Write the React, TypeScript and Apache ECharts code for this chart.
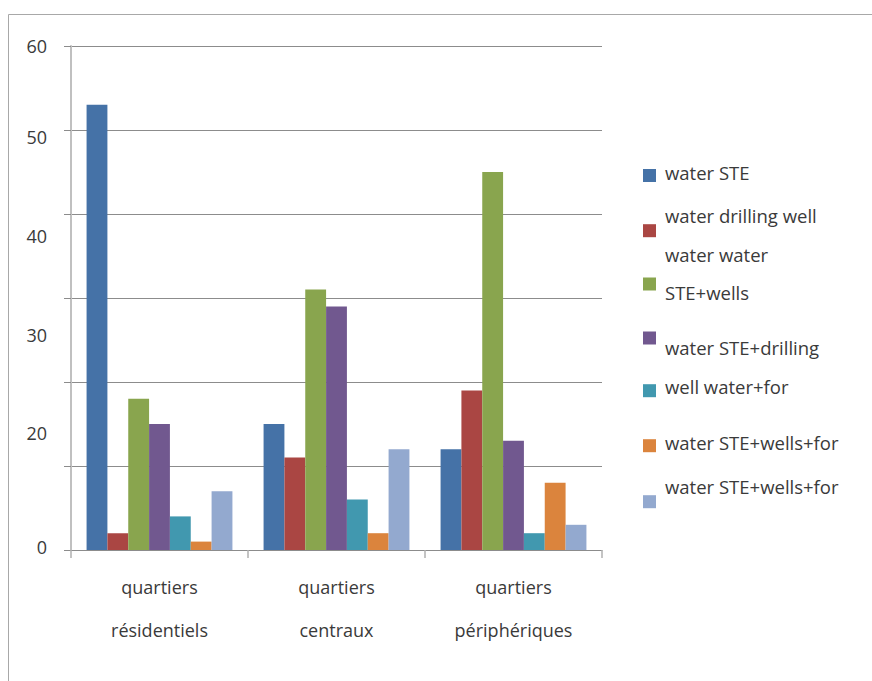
import React, { useEffect, useRef } from "react";
import * as echarts from "echarts";

// ---- data ----
const categories = ["quartiers\nrésidentiels", "quartiers\ncentraux", "quartiers\npériphériques"];
const seriesNames = [
  "water STE",
  "water drilling well\nwater water",
  "STE+wells",
  "water STE+drilling",
  "well water+for",
  "water STE+wells+for",
  "water STE+wells+for ",
];
const waterSTE = [53, 15, 12];
const drillingWell = [2, 11, 19];
const steWells = [18, 31, 45];
const steDrilling = [15, 29, 13];
const wellWaterFor = [4, 6, 2];
const steWellsFor = [1, 2, 8];
const steWellsFor2 = [7, 12, 3];
const seriesValues = [waterSTE, drillingWell, steWells, steDrilling, wellWaterFor, steWellsFor, steWellsFor2];
const yTickLabels = ["60", "50", "40", "30", "20", "0"];

// ---- style ----
const colors = ["#4572A7", "#AA4643", "#89A54E", "#71588F", "#4198AF", "#DB843D", "#93A9CF"];
const yLabelAnchors = [60, 49.2, 37.4, 25.6, 13.9, 0.3];
const legendCenters = [175.5, 230.7, 284, 338, 390.7, 445.7, 501.7];
const legendShifts = [-3.5, 4, 8, 9.5, -4, -3, -15];
const FONT = "'Open Sans', 'DejaVu Sans', sans-serif";
const TEXT = "#3a3a3a";

export default function App() {
  const ref = useRef<HTMLDivElement>(null);
  useEffect(() => {
    if (!ref.current) return;
    const chart = echarts.init(ref.current, null, { renderer: "svg" });
    const LH = 39;
    const legends = seriesNames.map((name, i) => {
      const lines = name.split("\n");
      const C = LH * lines.length;
      const d = legendShifts[i];
      const sp = Math.max(1, Math.abs(2 * d));
      const body = lines.map((l) => `{t|${l}}`).join("\n");
      const display = d > 0 ? `{s| }\n${body}` : `${body}\n{s| }`;
      const blockH = C + sp;
      return {
        show: true,
        data: [name],
        left: 643,
        top: legendCenters[i] - blockH / 2,
        padding: 0,
        orient: "vertical",
        icon: "rect",
        itemWidth: 13,
        itemHeight: 13,
        selectedMode: false,
        formatter: () => display,
        textStyle: {
          fontFamily: FONT,
          fontSize: 18.5,
          color: TEXT,
          rich: {
            t: {
              fontFamily: FONT,
              fontSize: 18.5,
              color: TEXT,
              lineHeight: LH,
              height: LH,
              padding: [0, 0, 0, 4],
            },
            s: { fontSize: 1, lineHeight: sp, height: sp },
          },
        },
      };
    });
    const labelMap = new Map<number, string>();
    yLabelAnchors.forEach((v, i) => labelMap.set(Math.round(v * 10), yTickLabels[i]));
    chart.setOption({
      animation: false,
      backgroundColor: "#ffffff",
      color: colors,
      textStyle: { fontFamily: FONT },
      graphic: [
        {
          type: "rect",
          silent: true,
          shape: { x: 8.5, y: 14.5, width: 1000, height: 1000 },
          style: { fill: "none", stroke: "#a8a8a8", lineWidth: 1 },
        },
      ],
      legend: legends,
      grid: { left: 71, top: 46, right: 270, bottom: 131, containLabel: false },
      xAxis: {
        type: "category",
        data: categories,
        axisLine: { lineStyle: { color: "#8c8c8c", width: 1 } },
        axisTick: { show: true, length: 8, lineStyle: { color: "#b0b0b0", width: 1.5 } },
        axisLabel: {
          fontFamily: FONT,
          fontSize: 18,
          color: TEXT,
          lineHeight: 43,
          margin: 15.5,
          interval: 0,
        },
      },
      yAxis: [
        {
          type: "value",
          min: 0,
          max: 60,
          interval: 10,
          axisLine: { show: true, lineStyle: { color: "#c0c0c0", width: 2 } },
          axisTick: { show: true, inside: false, length: 7, lineStyle: { color: "#8c8c8c" } },
          axisLabel: { show: false },
          splitLine: { show: true, lineStyle: { color: "#8c8c8c", width: 1.2 } },
        },
        {
          type: "value",
          min: 0,
          max: 60,
          interval: 0.1,
          position: "left",
          axisLine: { show: false },
          axisTick: { show: false },
          splitLine: { show: false },
          axisLabel: {
            margin: 24,
            fontFamily: FONT,
            fontSize: 18,
            color: TEXT,
            formatter: (v: number) => labelMap.get(Math.round(v * 10)) ?? "",
          },
        },
      ],
      series: seriesNames.map((name, i) => ({
        type: "bar",
        name,
        data: seriesValues[i],
        yAxisIndex: 0,
        barGap: "0%",
        barCategoryGap: "17.6%",
        itemStyle: { color: colors[i] },
      })),
    });
    return () => chart.dispose();
  }, []);
  return (
    <div
      ref={ref}
      style={{ position: "fixed", left: 0, top: 0, width: 872, height: 681, background: "#fff" }}
    />
  );
}
